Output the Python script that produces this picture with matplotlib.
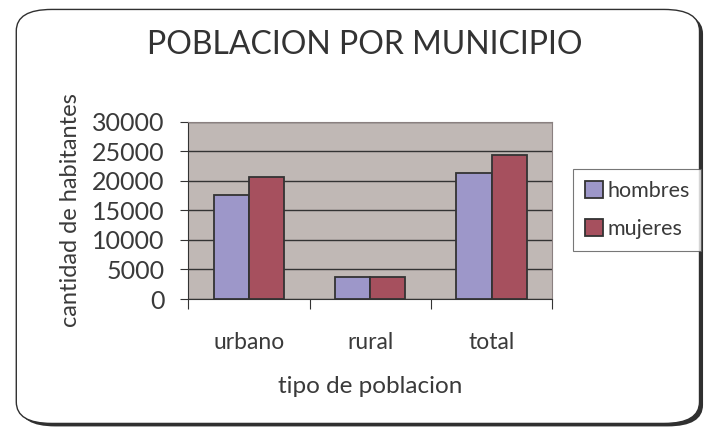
import matplotlib.pyplot as plt
import numpy as np
from matplotlib.patches import FancyBboxPatch

categorias = ['urbano', 'rural', 'total']
hombres = [17600, 3700, 21300]
mujeres = [20600, 3700, 24300]
y_ticks = [0, 5000, 10000, 15000, 20000, 25000, 30000]

plt.rcParams['font.family'] = ['Lato', 'DejaVu Sans']

fig = plt.figure(figsize=(7.08, 4.29), dpi=100)

# marco redondeado con sombra
sombra = FancyBboxPatch((0.028, 0.006), 0.965, 0.965,
                        boxstyle='round,pad=0,rounding_size=0.05',
                        transform=fig.transFigure, facecolor='#303030',
                        edgecolor='none', zorder=0)
marco = FancyBboxPatch((0.023, 0.013), 0.965, 0.965,
                       boxstyle='round,pad=0,rounding_size=0.05',
                       transform=fig.transFigure, facecolor='white',
                       edgecolor='#303030', linewidth=1.0, zorder=1)
fig.patches.extend([sombra, marco])

ax = fig.add_axes([0.266, 0.303, 0.514, 0.413])
ax.set_zorder(2)
ax.set_facecolor('#C0B8B5')

x = np.arange(len(categorias))
ancho = 0.29
ax.bar(x - ancho / 2, hombres, ancho, color='#9D97C9', edgecolor='#333333',
       linewidth=1.3, label='hombres', zorder=3)
ax.bar(x + ancho / 2, mujeres, ancho, color='#A6505E', edgecolor='#333333',
       linewidth=1.3, label='mujeres', zorder=3)

ax.set_xlim(-0.5, len(categorias) - 0.5)
ax.set_ylim(0, 30000)
ax.set_yticks(y_ticks)
ax.set_yticklabels([str(v) for v in y_ticks])
ax.yaxis.grid(True, color='#333333', linewidth=1.0, zorder=1)
ax.set_axisbelow(True)

ax.set_xticks([-0.5, 0.5, 1.5, 2.5])
ax.set_xticklabels([])
ax.set_xticks(x, minor=True)
ax.set_xticklabels(categorias, minor=True)
ax.tick_params(axis='x', which='minor', length=0, pad=24, labelsize=16.5, labelcolor='#3a3a3a')
ax.tick_params(axis='x', which='major', length=7, direction='out', color='#333333')
ax.tick_params(axis='y', length=6, direction='out', pad=11, labelsize=18,
               labelcolor='#3a3a3a', color='#333333')

for lado in ['top', 'right']:
    ax.spines[lado].set_color('#8A8080')
ax.spines['left'].set_color('#333333')
ax.spines['bottom'].set_color('#333333')

ax.set_ylabel('cantidad de habitantes', fontsize=17, color='#3a3a3a', labelpad=8)
ax.set_xlabel('tipo de poblacion', fontsize=17.5, color='#3a3a3a', labelpad=16)

fig.text(0.515, 0.895, 'POBLACION POR MUNICIPIO', ha='center', va='center',
         fontsize=23, color='#333333', zorder=3)

leg = fig.legend(loc='upper left', bbox_to_anchor=(0.809, 0.606), fontsize=15.5,
                 frameon=True, fancybox=False, edgecolor='#555555',
                 handlelength=0.85, handleheight=0.85, handletextpad=0.2,
                 labelspacing=0.85, borderpad=0.55, borderaxespad=0,
                 labelcolor='#3a3a3a')
leg.get_frame().set_linewidth(0.8)
leg.set_zorder(4)

fig.savefig('out.png', dpi=100)
